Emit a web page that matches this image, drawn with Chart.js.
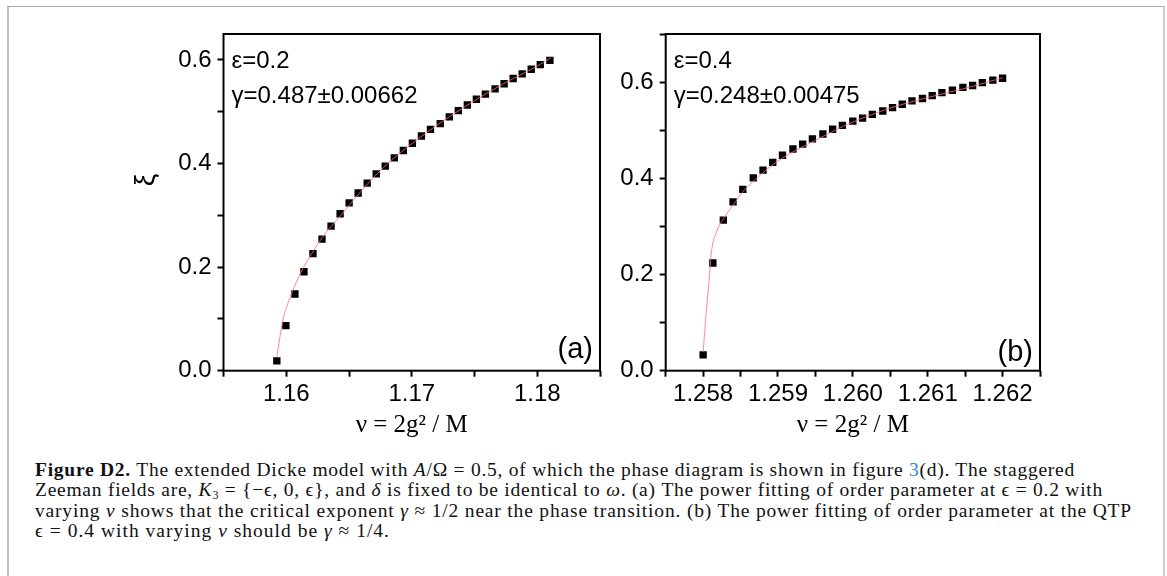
<!DOCTYPE html>
<html>
<head>
<meta charset="utf-8">
<script src="https://cdn.jsdelivr.net/npm/chart.js@4.4.1/dist/chart.umd.min.js"></script>
<style>
  body { margin: 0; background: #fff; width: 1167px; height: 576px; overflow: hidden; position: relative; }
  #frame { position: absolute; left: 7px; top: 6px; width: 1154px; height: 600px;
           border-left: 2px solid #bdbdbd; border-top: 1px solid #a8a8a8; border-right: 2px solid #cfcfcf; }
  canvas { position: absolute; top: 0; }
  #capA { left: 120px; }
  #capB { left: 560px; }
  #caption { position: absolute; left: 35px; top: 460px; font-family: "Liberation Serif", "Times New Roman", serif;
             font-size: 19.5px; color: #111; }
  #caption div { white-space: nowrap; height: 20.3px; line-height: 20.3px; }
  #caption i { font-style: italic; }
  #caption sub { font-size: 12px; line-height: 0; vertical-align: -3px; }
  .lnk { color: #2b8cc4; }
</style>
</head>
<body>
<div id="frame"></div>
<canvas id="capA" width="500" height="445"></canvas>
<canvas id="capB" width="500" height="445"></canvas>
<div id="caption">
  <div data-w="1040"><b>Figure D2.</b> The extended Dicke model with <i>A</i>/Ω = 0.5, of which the phase diagram is shown in figure <span class="lnk">3</span>(d). The staggered</div>
  <div data-w="1068">Zeeman fields are, <i>K</i><sub>3</sub> = {−ϵ, 0, ϵ}, and <i>δ</i> is fixed to be identical to <i>ω</i>. (a) The power fitting of order parameter at ϵ = 0.2 with</div>
  <div data-w="1097">varying <i>ν</i> shows that the critical exponent <i>γ</i> ≈ 1/2 near the phase transition. (b) The power fitting of order parameter at the QTP</div>
  <div data-w="355">ϵ = 0.4 with varying <i>ν</i> should be <i>γ</i> ≈ 1/4.</div>
</div>
<script>
// panel (a): epsilon = 0.2
var nuA = [1.15925, 1.15997, 1.16069, 1.16141, 1.16213, 1.16285, 1.16357, 1.16429, 1.16501, 1.16573,
           1.16645, 1.16717, 1.16789, 1.16861, 1.16933, 1.17005, 1.17077, 1.17149, 1.17227, 1.17299,
           1.17371, 1.17443, 1.17515, 1.17587, 1.17664, 1.17736, 1.17808, 1.17880, 1.17952, 1.18024, 1.18101];
var xiA = [0.019, 0.087, 0.148, 0.191, 0.226, 0.254, 0.279, 0.303, 0.324, 0.343,
           0.362, 0.380, 0.395, 0.411, 0.425, 0.439, 0.453, 0.466, 0.477, 0.490,
           0.502, 0.513, 0.524, 0.534, 0.544, 0.554, 0.564, 0.573, 0.582, 0.591, 0.599];
// fitted curve (a)
var fitNuA = [1.15925, 1.15973, 1.16013, 1.16053, 1.16093, 1.16133, 1.16187, 1.16253, 1.16320, 1.16400,
              1.16480, 1.16613, 1.16800, 1.17000, 1.17200, 1.17400, 1.17600, 1.17800, 1.18000, 1.18110];
var fitXiA = [0.027, 0.098, 0.130, 0.155, 0.178, 0.197, 0.220, 0.245, 0.268, 0.290,
              0.313, 0.351, 0.398, 0.438, 0.474, 0.506, 0.536, 0.563, 0.588, 0.604];

// panel (b): epsilon = 0.4
var nuB = [1.25800, 1.25813, 1.25827, 1.25840, 1.25853, 1.25867, 1.25880, 1.25893, 1.25906, 1.25920,
           1.25933, 1.25946, 1.25960, 1.25973, 1.25986, 1.26000, 1.26013, 1.26026, 1.26040, 1.26053,
           1.26066, 1.26079, 1.26093, 1.26106, 1.26119, 1.26133, 1.26147, 1.26160, 1.26173, 1.26187, 1.26200];
var xiB = [0.033, 0.224, 0.313, 0.351, 0.377, 0.401, 0.417, 0.433, 0.448, 0.461,
           0.471, 0.482, 0.492, 0.502, 0.510, 0.519, 0.525, 0.533, 0.540, 0.547,
           0.554, 0.561, 0.566, 0.572, 0.578, 0.583, 0.589, 0.593, 0.599, 0.604, 0.608];
var fitNuB = [1.25800, 1.25804, 1.25808, 1.25810, 1.25812, 1.25818, 1.25827, 1.25840, 1.25853, 1.25870,
              1.25900, 1.25950, 1.26000, 1.26050, 1.26100, 1.26150, 1.26200];
var fitXiB = [0.039, 0.119, 0.188, 0.230, 0.257, 0.289, 0.316, 0.344, 0.372, 0.398,
              0.436, 0.479, 0.517, 0.546, 0.568, 0.587, 0.609];

// tick labels
var xLabelsA = [1.16, 1.17, 1.18];
var xLabelsB = [1.258, 1.259, 1.260, 1.261, 1.262];
var yLabels = [0.0, 0.2, 0.4, 0.6];

function pts(xs, ys) {
    var out = [];
    for (var i = 0; i < xs.length; i++) out.push({ x: xs[i], y: ys[i] });
    return out;
}
function labeler(list, digits) {
    return function (v) {
        for (var i = 0; i < list.length; i++) {
            if (Math.abs(v - list[i]) < 1e-7) return list[i].toFixed(digits);
        }
        return '';
    };
}

var SANS = '"Liberation Sans", Arial, sans-serif';

var panelDecor = {
    id: 'panelDecor',
    afterDatasetsDraw: function (chart, args, o) {
        var ctx = chart.ctx, a = chart.chartArea;
        ctx.save();
        ctx.lineWidth = 2;
        ctx.strokeStyle = '#000';
        ctx.strokeRect(a.left, a.top, a.right - a.left, a.bottom - a.top);
        ctx.fillStyle = '#000';
        ctx.textBaseline = 'alphabetic';
        ctx.textAlign = 'left';
        ctx.font = '24px ' + SANS;
        ctx.fillText(o.eps, a.left + 8, a.top + 34);
        ctx.fillText(o.gamma, a.left + 8, a.top + 69);
        ctx.font = '29px ' + SANS;
        ctx.textAlign = 'right';
        ctx.fillText(o.tag, a.right - 7, a.bottom - o.tagUp);
        if (o.yTitle) {
            ctx.translate(a.left - 77, a.top + 146);
            ctx.rotate(-Math.PI / 2);
            ctx.textAlign = 'center';
            ctx.textBaseline = 'middle';
            ctx.font = '28px ' + SANS;
            ctx.fillText(o.yTitle, 0, 0);
        }
        ctx.restore();
    }
};

function makePanel(id, nu, xi, fitNu, fitXi, xr, xLabels, xDigits, ymax, yWidth, notes) {
    var ctx = document.getElementById(id).getContext('2d');
    return new Chart(ctx, {
        type: 'scatter',
        data: {
            datasets: [
                { data: pts(fitNu, fitXi), showLine: true, borderColor: 'rgba(255,110,110,0.8)', borderWidth: 1,
                  pointRadius: 0, cubicInterpolationMode: 'monotone' },
                { data: pts(nu, xi), pointStyle: 'rect', pointRadius: 5.2, borderWidth: 0,
                  backgroundColor: '#000', borderColor: '#000' }
            ]
        },
        options: {
            responsive: false,
            animation: false,
            devicePixelRatio: 1,
            layout: { padding: { top: 34, right: 20, left: 0, bottom: 0 } },
            plugins: { legend: { display: false }, tooltip: { enabled: false }, panelDecor: notes },
            scales: {
                x: {
                    type: 'linear', min: xr[0], max: xr[1],
                    afterFit: function (s) { s.height = 74.3; },
                    border: { display: false },
                    grid: { drawOnChartArea: false, tickLength: 6, tickColor: '#000', tickWidth: 2 },
                    ticks: { stepSize: xr[2], includeBounds: false, autoSkip: false, maxRotation: 0,
                             padding: 3, color: '#000', font: { family: SANS, size: 24 },
                             callback: labeler(xLabels, xDigits) },
                    title: { display: true, text: 'ν = 2g² / M', color: '#000',
                             font: { family: '"Liberation Serif", "Times New Roman", serif', size: 25 },
                             padding: { top: 0, bottom: 5 } }
                },
                y: {
                    type: 'linear', min: 0, max: ymax,
                    afterFit: function (s) { s.width = yWidth; },
                    border: { display: false },
                    grid: { drawOnChartArea: false, tickLength: 6, tickColor: '#000', tickWidth: 2 },
                    ticks: { stepSize: 0.1, includeBounds: false, autoSkip: false, padding: 6, color: '#000',
                             font: { family: SANS, size: 24 }, callback: labeler(yLabels, 1) }
                }
            }
        },
        plugins: [panelDecor]
    });
}

makePanel('capA', nuA, xiA, fitNuA, fitXiA, [1.155, 1.185, 0.005], xLabelsA, 2, 0.65, 103.5,
    { eps: 'ε=0.2', gamma: 'γ=0.487±0.00662', tag: '(a)', tagUp: 13, yTitle: 'ξ' });
makePanel('capB', nuB, xiB, fitNuB, fitXiB, [1.2575, 1.2625, 0.0005], xLabelsB, 3, 0.7, 105.7,
    { eps: 'ε=0.4', gamma: 'γ=0.248±0.00475', tag: '(b)', tagUp: 10 });

// stretch the caption lines to the measured line lengths (spread over letters)
document.querySelectorAll('#caption div[data-w]').forEach(function (d) {
    var target = +d.getAttribute('data-w');
    var r = document.createRange();
    r.selectNodeContents(d);
    var w = r.getBoundingClientRect().width;
    var n = d.textContent.trim().replace(/\s+/g, ' ').length;
    d.style.letterSpacing = ((target - w) / n) + 'px';
});
</script>
</body>
</html>
